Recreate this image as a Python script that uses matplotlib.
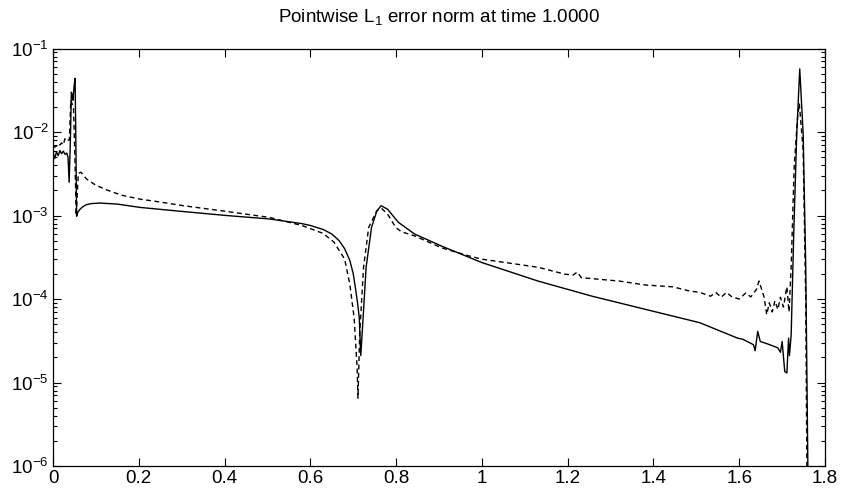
import numpy as np
import matplotlib
matplotlib.use("Agg")
from matplotlib import pyplot as plt
from matplotlib.ticker import FuncFormatter, LogLocator, NullFormatter

plt.rcParams['font.family'] = ['Liberation Sans', 'DejaVu Sans']
plt.rcParams['mathtext.fontset'] = 'custom'
plt.rcParams['mathtext.rm'] = 'Liberation Sans'
plt.rcParams['mathtext.it'] = 'Liberation Sans:italic'

# solid curve
x_solid = [0, 0.004, 0.008, 0.012, 0.016, 0.020, 0.024, 0.028, 0.032, 0.035, 0.0376,
           0.0405, 0.0427, 0.0445, 0.0464, 0.049, 0.0514, 0.053, 0.055, 0.058, 0.063,
           0.07, 0.078, 0.09, 0.109, 0.15, 0.203, 0.3, 0.404, 0.504, 0.58, 0.6, 0.63,
           0.65, 0.667, 0.68, 0.692, 0.70, 0.705, 0.71, 0.714, 0.7175, 0.7225, 0.730,
           0.7426, 0.7552, 0.765, 0.780, 0.805, 0.843, 0.906, 1.0, 1.131, 1.257, 1.382,
           1.508, 1.596, 1.608, 1.633, 1.637, 1.643, 1.649, 1.67, 1.690, 1.696, 1.700,
           1.706, 1.711, 1.715, 1.717, 1.721, 1.727, 1.734, 1.741, 1.749, 1.755, 1.762]
y_solid = [5.7e-3, 4.8e-3, 5.8e-3, 5.2e-3, 6.0e-3, 5.5e-3, 5.9e-3, 5.4e-3, 5.6e-3, 5.0e-3, 2.5e-3,
           8e-3, 3.0e-2, 2.8e-2, 2.4e-2, 3.5e-2, 4.4e-2, 1e-2, 9.8e-4, 1.1e-3, 1.19e-3,
           1.28e-3, 1.35e-3, 1.39e-3, 1.41e-3, 1.37e-3, 1.25e-3, 1.12e-3, 1.0e-3, 9.1e-4, 8.0e-4, 7.6e-4, 6.8e-4,
           6.0e-4, 5.0e-4, 4.0e-4, 2.9e-4, 2.0e-4, 1.36e-4, 9e-5, 6e-5, 2.1e-5, 5.4e-5, 2.4e-4,
           7.2e-4, 1.14e-3, 1.31e-3, 1.19e-3, 8.3e-4, 6.0e-4, 4.3e-4, 2.73e-4, 1.64e-4, 1.08e-4, 7.5e-5,
           5.2e-5, 3.4e-5, 3.3e-5, 2.84e-5, 2.4e-5, 4.1e-5, 3.1e-5, 2.85e-5, 2.6e-5, 2.3e-5, 3.1e-5,
           1.36e-5, 1.3e-5, 3.4e-5, 2.1e-5, 3.7e-5, 6e-4, 9.5e-3, 5.7e-2, 9.5e-3, 2.4e-4, 1e-7]

# dashed curve
x_dash = [0, 0.004, 0.008, 0.012, 0.016, 0.02, 0.024, 0.0276, 0.031, 0.035, 0.038, 0.0415,
          0.044, 0.0477, 0.051, 0.054, 0.059, 0.065, 0.078, 0.1, 0.128, 0.16, 0.203, 0.25,
          0.304, 0.404, 0.504, 0.58, 0.63, 0.655, 0.68, 0.692, 0.702, 0.709, 0.711, 0.715,
          0.724, 0.736, 0.755, 0.765, 0.78, 0.799, 0.812, 0.843, 0.906, 0.968, 1.0, 1.131,
          1.194, 1.213, 1.222, 1.232, 1.32, 1.382, 1.445, 1.483, 1.508, 1.533, 1.545, 1.558,
          1.570, 1.583, 1.60, 1.615, 1.627, 1.640, 1.646, 1.658, 1.664, 1.670, 1.677, 1.683,
          1.690, 1.696, 1.703, 1.711, 1.716, 1.721, 1.728, 1.736, 1.740, 1.749, 1.755, 1.759]
y_dash = [6.9e-3, 6.6e-3, 6.8e-3, 7.2e-3, 7.0e-3, 7.4e-3, 7.0e-3, 8.3e-3, 7.8e-3, 8.0e-3, 8.0e-3, 2.4e-2,
          2.2e-2, 2.0e-2, 5e-3, 1e-3, 3.2e-3, 3.3e-3, 2.74e-3, 2.3e-3, 2.0e-3, 1.75e-3, 1.57e-3, 1.45e-3,
          1.31e-3, 1.12e-3, 9.5e-4, 7.6e-4, 6.1e-4, 4.8e-4, 3.0e-4, 1.5e-4, 6e-5, 1.5e-5, 6.5e-6, 3.8e-5,
          2.4e-4, 7.2e-4, 1.14e-3, 1.23e-3, 1.04e-3, 7.2e-4, 6.4e-4, 5.7e-4, 4.1e-4, 3.3e-4, 3.0e-4, 2.4e-4,
          1.98e-4, 1.94e-4, 2.1e-4, 1.8e-4, 1.64e-4, 1.47e-4, 1.4e-4, 1.25e-4, 1.2e-4, 1.08e-4, 1.2e-4, 1.05e-4,
          1.2e-4, 1.06e-4, 1.0e-4, 1.18e-4, 1.06e-4, 1.3e-4, 1.64e-4, 1.05e-4, 6.5e-5, 9e-5, 7e-5, 9.5e-5,
          7.5e-5, 1.05e-4, 8e-5, 1.4e-4, 7e-5, 2.4e-4, 3.8e-3, 1.5e-2, 2.2e-2, 6e-3, 9.5e-5, 1e-7]

x_ticks = [0, 0.2, 0.4, 0.6, 0.8, 1, 1.2, 1.4, 1.6, 1.8]
title = r'Pointwise L$_1$ error norm at time 1.0000'

fig = plt.figure(figsize=(8.43, 4.91), dpi=100)
ax = fig.add_axes([0.0629, 0.0509, 0.9158, 0.8503])
ax.semilogy(x_solid, y_solid, color='black', lw=1.0)
ax.semilogy(x_dash, y_dash, color='black', lw=1.0, linestyle=(0, (3.5, 2.5)))

ax.set_xlim(0, 1.8)
ax.set_ylim(1e-6, 1e-1)
ax.set_xticks(x_ticks)
ax.xaxis.set_major_formatter(FuncFormatter(lambda v, p: '%g' % v))
ax.yaxis.set_major_locator(LogLocator(base=10, numticks=10))
ax.yaxis.set_minor_locator(LogLocator(base=10, subs=np.arange(2, 10), numticks=20))
ax.yaxis.set_minor_formatter(NullFormatter())
ax.tick_params(which='both', direction='in', top=True, right=True, labelsize=13.5, width=0.8)
ax.tick_params(which='major', length=6, pad=3)
ax.tick_params(which='minor', length=3)
for s in ax.spines.values():
    s.set_linewidth(0.9)
ax.set_title(title, fontsize=13.5, pad=19)

fig.savefig('out.png', dpi=100)
